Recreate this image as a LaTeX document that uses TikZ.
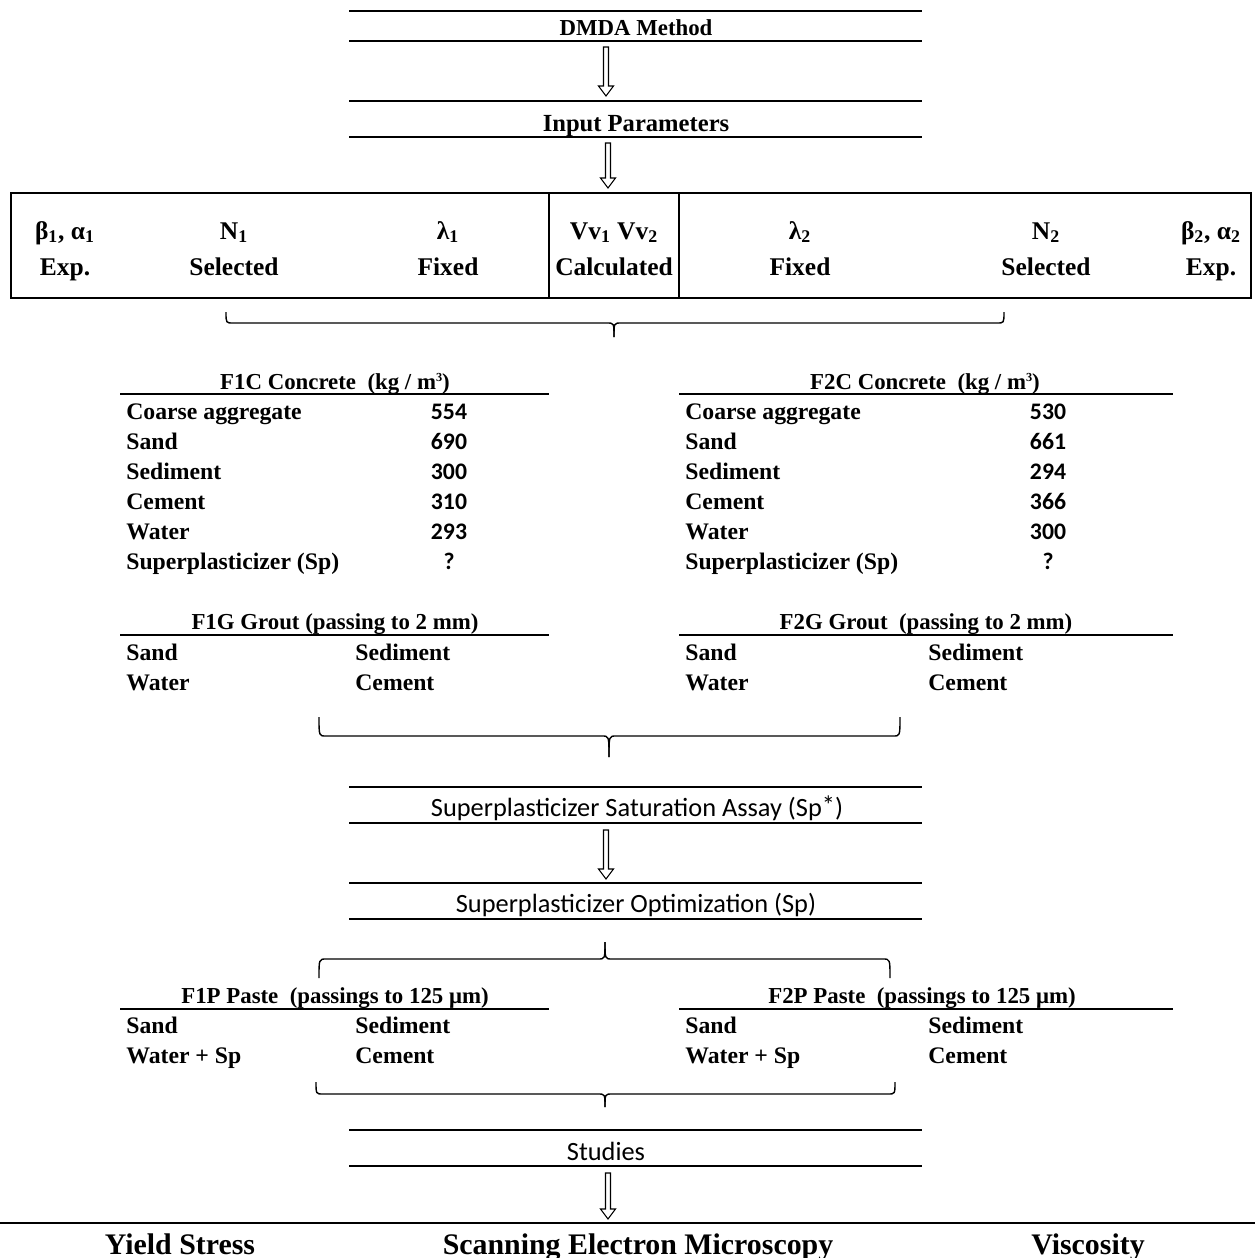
\documentclass[tikz,border=0pt]{standalone}
\usepackage{fontspec}
\setmainfont{Liberation Serif}
\newfontfamily\calfont{Carlito}
\usetikzlibrary{calc}
% small cube superscript
\newcommand\cubesup{\raisebox{0.75ex}{\fontsize{7}{8}\selectfont 3}}
% hollow flow arrow between two named coordinates (start above, tip below)
\newcommand\flowarrow[2]{%
  \draw[line width=0.6pt] ($(#1)+(-2.5,0)$) -- ($(#2)+(-2.5,-10)$) -- ($(#2)+(-7.5,-10)$) -- (#2)
    -- ($(#2)+(7.5,-10)$) -- ($(#2)+(2.5,-10)$) -- ($(#1)+(2.5,0)$) -- cycle;}
% brace: left x, right x, arm-end y, middle y, tip x, tip y
\newcommand\bracket[6]{%
  \draw[brace] (#1,#3) .. controls (#1,#4) .. ({#1+7},#4) -- ({#5-7},#4) .. controls (#5,#4) .. (#5,#6);
  \draw[brace] (#2,#3) .. controls (#2,#4) .. ({#2-7},#4) -- ({#5+7},#4) .. controls (#5,#4) .. (#5,#6);}
\begin{document}
\begin{tikzpicture}[x=0.02cm,y=-0.02cm,
  txt/.style={inner sep=0pt, anchor=base},
  band/.style={txt, font=\bfseries\fontsize{13}{15}\selectfont},
  bandsans/.style={txt, font=\calfont\fontsize{15}{17}\selectfont},
  cell/.style={txt, font=\bfseries\fontsize{14.5}{17}\selectfont},
  head/.style={txt, font=\bfseries\fontsize{13}{15}\selectfont},
  row/.style={txt, anchor=base west, font=\bfseries\fontsize{13.5}{16}\selectfont},
  num/.style={txt, font=\calfont\bfseries\fontsize{13.5}{16}\selectfont},
  big/.style={txt, font=\bfseries\fontsize{17}{20}\selectfont},
  rule/.style={line width=1.1pt},
  hair/.style={line width=0.9pt},
  brace/.style={line width=0.8pt},
]
\useasboundingbox (0,0) rectangle (1255,1258);
\fill[white] (0,0) rectangle (1255,1258);

% ---- DMDA Method band
\draw[rule] (349,11) -- (922,11);
\draw[rule] (349,41) -- (922,41);
\node[band] (dmda) at (636,35) {DMDA Method};
\coordinate (a1s) at (606,47);
\coordinate (a1e) at (606,96);
\flowarrow{a1s}{a1e}

% ---- Input Parameters band
\draw[rule] (349,101) -- (922,101);
\draw[rule] (349,137) -- (922,137);
\node[band, font=\bfseries\fontsize{14}{16}\selectfont] (input) at (636,131) {Input Parameters};
\coordinate (a2s) at (608,143);
\coordinate (a2e) at (608,188);
\flowarrow{a2s}{a2e}

% ---- parameter box
\draw[line width=1pt] (11,193) rectangle (1251,298);
\draw[line width=1.3pt] (11,193) -- (1251,193);
\draw[line width=0.8pt] (549,193) -- (549,298);
\draw[line width=0.8pt] (679,193) -- (679,298);
\node[cell] (p1a) at (65,239) {β\textsubscript{1}, α\textsubscript{1}};
\node[cell] (p1b) at (65,275) {Exp.};
\node[cell] (p2a) at (234,239) {N\textsubscript{1}};
\node[cell] (p2b) at (234,275) {Selected};
\node[cell] (p3a) at (448,239) {λ\textsubscript{1}};
\node[cell] (p3b) at (448,275) {Fixed};
\node[cell] (p4a) at (614,239) {Vv\textsubscript{1} Vv\textsubscript{2}};
\node[cell] (p4b) at (614,275) {Calculated};
\node[cell] (p5a) at (800,239) {λ\textsubscript{2}};
\node[cell] (p5b) at (800,275) {Fixed};
\node[cell] (p6a) at (1046,239) {N\textsubscript{2}};
\node[cell] (p6b) at (1046,275) {Selected};
\node[cell] (p7a) at (1211,239) {β\textsubscript{2}, α\textsubscript{2}};
\node[cell] (p7b) at (1211,275) {Exp.};

\bracket{226}{1004}{312}{323}{614}{337}

% ---- Concrete tables
\node[head] (f1c) at (335,389) {F1C Concrete\enspace(kg / m\cubesup)};
\draw[hair] (120,394) -- (549,394);
\node[head] (f2c) at (925,389) {F2C Concrete\enspace(kg / m\cubesup)};
\draw[hair] (679,394) -- (1173,394);
\foreach \lab/\va/\vb [count=\i] in {Coarse aggregate/554/530, Sand/690/661, Sediment/300/294, Cement/310/366, Water/293/300, Superplasticizer (Sp)/?/?}{
  \node[row] (l1r\i) at ({126},{389+30*\i}) {\lab};
  \node[num] (v1r\i) at ({449},{389+30*\i}) {\va};
  \node[row] (l2r\i) at ({685},{389+30*\i}) {\lab};
  \node[num] (v2r\i) at ({1048},{389+30*\i}) {\vb};
}

% ---- Grout tables
\node[head] (f1g) at (335,629) {F1G Grout (passing to 2 mm)};
\draw[hair] (120,635) -- (549,635);
\node[head] (f2g) at (926,629) {F2G Grout\enspace(passing to 2 mm)};
\draw[hair] (679,635) -- (1173,635);
\node[row] (g1a) at (126,660) {Sand};
\node[row] (g1b) at (355,660) {Sediment};
\node[row] (g1c) at (126,690) {Water};
\node[row] (g1d) at (355,690) {Cement};
\node[row] (g2a) at (685,660) {Sand};
\node[row] (g2b) at (928,660) {Sediment};
\node[row] (g2c) at (685,690) {Water};
\node[row] (g2d) at (928,690) {Cement};

\bracket{319}{900}{717}{736}{609}{757}

% ---- Superplasticizer bands
\draw[rule] (349,787) -- (922,787);
\draw[rule] (349,823) -- (922,823);
\node[bandsans] (ssa) at (637,816) {Superplasticizer Saturation Assay (Sp\raisebox{0.12ex}{*})};
\coordinate (a3s) at (606,830);
\coordinate (a3e) at (606,879);
\flowarrow{a3s}{a3e}
\draw[rule] (349,883) -- (922,883);
\draw[rule] (349,919) -- (922,919);
\node[bandsans] (opt) at (636,912) {Superplasticizer Optimization (Sp)};

\bracket{319}{890}{978}{959}{605}{942}

% ---- Paste tables
\node[head] (f1p) at (335,1003) {F1P Paste\enspace(passings to 125 μm)};
\draw[hair] (120,1009) -- (549,1009);
\node[head] (f2p) at (922,1003) {F2P Paste\enspace(passings to 125 μm)};
\draw[hair] (679,1009) -- (1173,1009);
\node[row] (q1a) at (126,1033) {Sand};
\node[row] (q1b) at (355,1033) {Sediment};
\node[row] (q1c) at (126,1063) {Water + Sp};
\node[row] (q1d) at (355,1063) {Cement};
\node[row] (q2a) at (685,1033) {Sand};
\node[row] (q2b) at (928,1033) {Sediment};
\node[row] (q2c) at (685,1063) {Water + Sp};
\node[row] (q2d) at (928,1063) {Cement};

\bracket{316}{895}{1082}{1094}{605}{1107}

% ---- Studies
\draw[rule] (349,1130) -- (922,1130);
\draw[rule] (349,1166) -- (922,1166);
\node[bandsans] (stud) at (606,1160) {Studies};
\coordinate (a4s) at (608,1173);
\coordinate (a4e) at (608,1219);
\flowarrow{a4s}{a4e}
\draw[rule] (0,1223) -- (1255,1223);
\node[big] (ys) at (180,1254) {Yield Stress};
\node[big] (sem) at (638,1254) {Scanning Electron Microscopy};
\node[big] (visc) at (1088,1254) {Viscosity};
\end{tikzpicture}
\end{document}
